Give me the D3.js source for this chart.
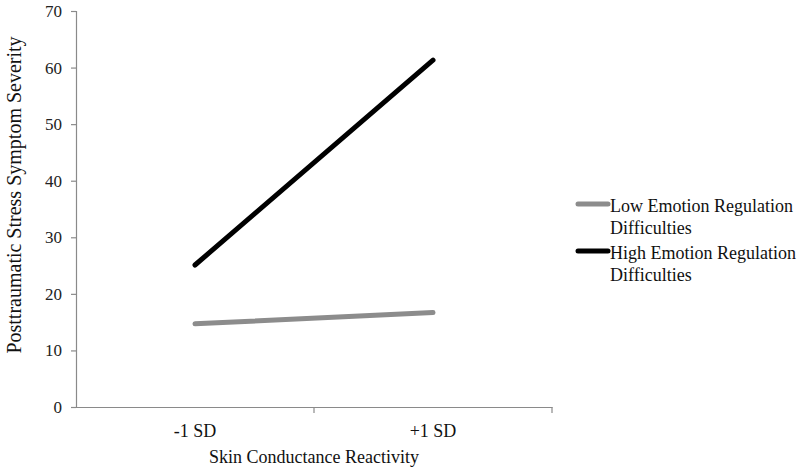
<!DOCTYPE html>
<html><head><meta charset="utf-8">
<script src="https://cdn.jsdelivr.net/npm/d3@7"></script>
<style>body{margin:0;background:#fff}svg{display:block}svg text{font-family:"Liberation Serif","Times New Roman",serif !important}</style>
</head><body>
<script>
const categories = ["-1 SD", "+1 SD"];
const lowERD = [14.7, 16.7];
const highERD = [25.1, 61.3];
const seriesNames = ["Low Emotion Regulation Difficulties", "High Emotion Regulation Difficulties"];
const yTicks = [0, 10, 20, 30, 40, 50, 60, 70];

const W = 800, H = 473;
const svg = d3.select("body").append("svg").attr("width", W).attr("height", H);
const x = d3.scaleBand().domain(categories).range([76, 552]);
const y = d3.scaleLinear().domain([0, 70]).range([407, 11]);

// y axis
const ya = svg.append("g").attr("transform", "translate(76,0)")
  .call(d3.axisLeft(y).tickValues(yTicks).tickSize(5).tickPadding(9));
ya.attr("font-family", null);
ya.select(".domain").attr("stroke", "#8a8a8a").attr("stroke-width", 1.2);
ya.selectAll(".tick line").attr("stroke", "#8a8a8a").attr("stroke-width", 1.2);
ya.selectAll(".tick text").style("font-size", "17px").attr("fill", "#222");

// x axis
const xa = svg.append("g").attr("transform", "translate(0,407)")
  .call(d3.axisBottom(x).tickSize(0).tickPadding(17));
xa.attr("font-family", null);
xa.select(".domain").attr("stroke", "#8a8a8a").attr("stroke-width", 1.2);
xa.selectAll(".tick text").style("font-size", "18px").attr("fill", "#111");
// band boundary ticks
const bounds = [x.range()[0], x(categories[1]), x.range()[1]];
xa.selectAll(".bt").data(bounds.slice(1)).enter().append("line")
  .attr("x1", d => d).attr("x2", d => d).attr("y1", 0).attr("y2", 6)
  .attr("stroke", "#8a8a8a").attr("stroke-width", 1.2);

// titles
svg.append("text").attr("x", 314).attr("y", 463).attr("text-anchor", "middle")
  .style("font-size", "18px").attr("fill", "#111").text("Skin Conductance Reactivity");
svg.append("text").attr("transform", "translate(21,195) rotate(-90)").attr("text-anchor", "middle")
  .style("font-size", "20px").attr("fill", "#111").text("Posttraumatic Stress Symptom Severity");

const line = d3.line().x((d, i) => x(categories[i]) + x.bandwidth() / 2).y(d => y(d));
const series = [{v: lowERD, c: "#8c8c8c"}, {v: highERD, c: "#000"}];
svg.selectAll(".s").data(series).enter().append("path")
  .attr("d", d => line(d.v)).attr("fill", "none").attr("stroke", d => d.c)
  .attr("stroke-width", 5).attr("stroke-linecap", "round");

// legend
const leg = svg.append("g");
const legY = [204, 251];
series.forEach((s, i) => {
  leg.append("line").attr("x1", 578).attr("x2", 608).attr("y1", legY[i]).attr("y2", legY[i])
    .attr("stroke", s.c).attr("stroke-width", 5).attr("stroke-linecap", "round");
  const words = seriesNames[i].split(" ");
  const t = leg.append("text").attr("x", 610).attr("y", legY[i] + 8).style("font-size", "18px").attr("fill", "#111");
  t.append("tspan").attr("x", 610).attr("dy", 0).text(words.slice(0, 3).join(" "));
  t.append("tspan").attr("x", 610).attr("dy", 22).text(words.slice(3).join(" "));
});
</script>
</body></html>
